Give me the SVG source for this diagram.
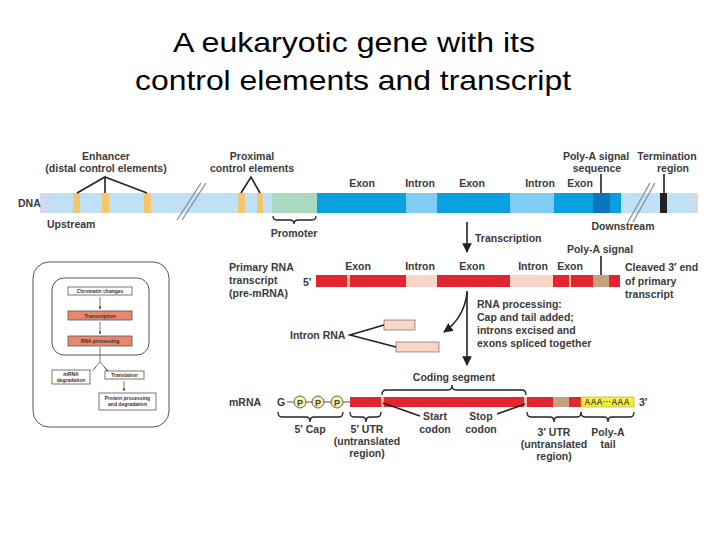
<svg xmlns="http://www.w3.org/2000/svg" width="720" height="540" viewBox="0 0 720 540">
<defs>
<style>
.t{font-family:"Liberation Sans",Arial,sans-serif;font-size:10.5px;font-weight:700;fill:#3a3a3a}
.m{text-anchor:middle}
.title{font-family:"Liberation Sans",Arial,sans-serif;font-size:28px;fill:#000;text-anchor:middle}
.ln{stroke:#222;stroke-width:1.6;fill:none}
.br{stroke:#222;stroke-width:1.3;fill:none}
.sl{stroke:#888;stroke-width:1.2;fill:none}
.s{font-family:"Liberation Sans",Arial,sans-serif;font-size:5px;font-weight:700;fill:#333;text-anchor:middle}
.bx{fill:#fff;stroke:#555;stroke-width:0.8}
.bs{fill:#e9876c;stroke:#555;stroke-width:0.8}
</style>
<linearGradient id="gl" x1="0" x2="1"><stop offset="0" stop-color="#d6d8e8"/><stop offset="1" stop-color="#bfe0f5"/></linearGradient>
<linearGradient id="gr" x1="0" x2="1"><stop offset="0" stop-color="#bfe0f5"/><stop offset="1" stop-color="#d6d8e8"/></linearGradient>
<marker id="ah" viewBox="0 0 10 10" refX="9" refY="5" markerWidth="6" markerHeight="6" orient="auto"><path d="M0,0 L10,5 L0,10 z" fill="#222"/></marker>
<marker id="as" viewBox="0 0 10 10" refX="9" refY="5" markerWidth="4" markerHeight="4" orient="auto"><path d="M0,0 L10,5 L0,10 z" fill="#444"/></marker>
</defs>
<rect width="720" height="540" fill="#fff"/>
<text class="title" x="354" y="52" textLength="362" lengthAdjust="spacingAndGlyphs">A eukaryotic gene with its</text>
<text class="title" x="353" y="90" textLength="436" lengthAdjust="spacingAndGlyphs">control elements and transcript</text>

<g id="dna">
<rect x="40" y="193" width="658" height="20" fill="#bfe0f5"/>
<rect x="40" y="193" width="14" height="20" fill="url(#gl)"/>
<rect x="686" y="193" width="12" height="20" fill="url(#gr)"/>
<rect x="73" y="193" width="7" height="20" fill="#f6c46a"/>
<rect x="102" y="193" width="7" height="20" fill="#f6c46a"/>
<rect x="144" y="193" width="7" height="20" fill="#f6c46a"/>
<rect x="238" y="193" width="7" height="20" fill="#f6c46a"/>
<rect x="257" y="193" width="6" height="20" fill="#f6c46a"/>
<rect x="272" y="193" width="45" height="20" fill="#a9d9c0"/>
<rect x="317" y="193" width="89" height="20" fill="#0aa0e0"/>
<rect x="406" y="193" width="31" height="20" fill="#7fcdf0"/>
<rect x="437" y="193" width="73" height="20" fill="#0aa0e0"/>
<rect x="510" y="193" width="44" height="20" fill="#7fcdf0"/>
<rect x="554" y="193" width="39" height="20" fill="#0aa0e0"/>
<rect x="593" y="193" width="17" height="20" fill="#0a78b8"/>
<rect x="610" y="193" width="11" height="20" fill="#0aa0e0"/>
<rect x="660" y="193" width="7" height="20" fill="#222"/>
<line class="sl" x1="177" y1="220" x2="201" y2="183"/>
<line class="sl" x1="182" y1="220" x2="206" y2="183"/>
<line class="sl" x1="628" y1="222" x2="650" y2="183"/>
<line class="sl" x1="633" y1="222" x2="655" y2="183"/>
<text class="t" x="18" y="207">DNA</text>
<text class="t" x="47" y="228">Upstream</text>
<text class="t m" x="623" y="230">Downstream</text>
</g>

<g id="enhancer">
<text class="t m" x="106" y="160">Enhancer</text>
<text class="t m" x="106" y="172">(distal control elements)</text>
<path class="ln" d="M77,193 L105,177 L105,193 M105,177 L147,193"/>
</g>
<g id="proximal">
<text class="t m" x="252" y="160">Proximal</text>
<text class="t m" x="252" y="172">control elements</text>
<path class="ln" d="M241,193 L251,177 L260,193"/>
</g>
<g id="promoter">
<path class="br" d="M273,216 q0,4 4,4 h13 q4,0 4,4 q0,-4 4,-4 h14 q4,0 4,-4"/>
<text class="t m" x="294" y="237">Promoter</text>
</g>
<g id="dna-labels">
<text class="t m" x="362" y="187">Exon</text>
<text class="t m" x="420" y="187">Intron</text>
<text class="t m" x="472" y="187">Exon</text>
<text class="t m" x="540" y="187">Intron</text>
<text class="t m" x="580" y="187">Exon</text>
<text class="t m" x="596" y="160">Poly-A signal</text>
<text class="t m" x="597" y="172">sequence</text>
<line class="ln" x1="601" y1="174" x2="601" y2="193"/>
<text class="t m" x="667" y="160">Termination</text>
<text class="t m" x="673" y="172">region</text>
<line class="ln" x1="664" y1="174" x2="664" y2="193"/>
</g>

<g id="pre-mrna">
<rect x="316" y="275" width="304" height="12" fill="#e32530"/>
<rect x="347" y="275" width="3" height="12" fill="#f6b88c"/>
<rect x="406" y="275" width="31" height="12" fill="#fbd5c8"/>
<rect x="510" y="275" width="43" height="12" fill="#fbd5c8"/>
<rect x="569" y="275" width="2" height="12" fill="#f6b8a8"/>
<rect x="593" y="275" width="16" height="12" fill="#c4a282"/>
<text class="t" x="229" y="271">Primary RNA</text>
<text class="t" x="229" y="284">transcript</text>
<text class="t" x="229" y="297">(pre-mRNA)</text>
<text class="t" x="303" y="286">5′</text>
<text class="t m" x="358" y="270">Exon</text>
<text class="t m" x="420" y="270">Intron</text>
<text class="t m" x="472" y="270">Exon</text>
<text class="t m" x="533" y="270">Intron</text>
<text class="t m" x="570" y="270">Exon</text>
<text class="t m" x="600" y="253">Poly-A signal</text>
<line class="ln" x1="601" y1="256" x2="601" y2="275"/>
<text class="t" x="625" y="271">Cleaved 3′ end</text>
<text class="t" x="625" y="285">of primary</text>
<text class="t" x="625" y="298">transcript</text>
</g>

<g id="intron-rna">
<rect x="384" y="320" width="31" height="10" fill="#fbd5c8" stroke="#555" stroke-width="0.6"/>
<rect x="396" y="342" width="43" height="10" fill="#fbd5c8" stroke="#555" stroke-width="0.6"/>
<text class="t" x="290" y="339">Intron RNA</text>
<path class="ln" d="M384,325 L350,335 L396,347"/>
</g>

<g id="mrna">
<rect x="350" y="397" width="231" height="10" fill="#e32530"/>
<rect x="381" y="397" width="3" height="10" fill="#f6b88c"/>
<rect x="524" y="397" width="3" height="10" fill="#f6b8a8"/>
<rect x="553" y="397" width="16" height="10" fill="#c4a282"/>
<rect x="581" y="397" width="53" height="10" fill="#f8f030" stroke="#b0a020" stroke-width="0.6"/>
<text x="607" y="405" font-family="Liberation Sans,Arial,sans-serif" font-size="8.5" font-weight="700" fill="#555" text-anchor="middle">AAA···AAA</text>
<text class="t" x="639" y="406">3′</text>
<text class="t" x="229" y="406">mRNA</text>
<text class="t" x="277" y="406">G</text>
<line x1="287" y1="402" x2="350" y2="402" stroke="#555" stroke-width="1"/>
<circle cx="300" cy="402" r="6" fill="#f4f0a0" stroke="#555" stroke-width="0.9"/>
<circle cx="318" cy="402" r="6" fill="#f4f0a0" stroke="#555" stroke-width="0.9"/>
<circle cx="337" cy="402" r="6" fill="#f4f0a0" stroke="#555" stroke-width="0.9"/>
<text x="300" y="405.5" font-family="Liberation Sans,Arial,sans-serif" font-size="9" font-weight="700" fill="#444" text-anchor="middle">P</text>
<text x="318" y="405.5" font-family="Liberation Sans,Arial,sans-serif" font-size="9" font-weight="700" fill="#444" text-anchor="middle">P</text>
<text x="337" y="405.5" font-family="Liberation Sans,Arial,sans-serif" font-size="9" font-weight="700" fill="#444" text-anchor="middle">P</text>
<text class="t m" x="454" y="381">Coding segment</text>
<path class="br" d="M382,395 q0,-5 4,-5 h62 q4,0 4,-5 q0,5 4,5 h66 q4,0 4,5"/>
<path class="br" d="M278,412 q0,5 4,5 h24 q4,0 4,5 q0,-5 4,-5 h25 q4,0 4,-5"/>
<text class="t m" x="310" y="433">5′ Cap</text>
<path class="br" d="M350,412 q0,5 4,5 h8 q4,0 4,5 q0,-5 4,-5 h7 q4,0 4,-5"/>
<text class="t m" x="367" y="433">5′ UTR</text>
<text class="t m" x="367" y="445">(untranslated</text>
<text class="t m" x="367" y="457">region)</text>
<line class="ln" x1="383" y1="403" x2="420" y2="416"/>
<text class="t m" x="435" y="420">Start</text>
<text class="t m" x="435" y="433">codon</text>
<line class="ln" x1="525" y1="404" x2="497" y2="414"/>
<text class="t m" x="481" y="420">Stop</text>
<text class="t m" x="481" y="433">codon</text>
<path class="br" d="M527,412 q0,5 4,5 h19 q4,0 4,5 q0,-5 4,-5 h19 q4,0 4,-5"/>
<text class="t m" x="554" y="436">3′ UTR</text>
<text class="t m" x="554" y="448">(untranslated</text>
<text class="t m" x="554" y="460">region)</text>
<path class="br" d="M581,412 q0,5 4,5 h19 q4,0 4,5 q0,-5 4,-5 h18 q4,0 4,-5"/>
<text class="t m" x="608" y="436">Poly-A</text>
<text class="t m" x="608" y="448">tail</text>
</g>

<g id="connectors">
<line class="ln" x1="467" y1="222" x2="467" y2="252" marker-end="url(#ah)"/>
<text class="t" x="475" y="242">Transcription</text>
<line class="ln" x1="467" y1="291" x2="467" y2="365" marker-end="url(#ah)"/>
<path class="ln" d="M467,293 Q464,318 444,332" marker-end="url(#ah)"/>
<text class="t" x="477" y="308">RNA processing:</text>
<text class="t" x="477" y="321">Cap and tail added;</text>
<text class="t" x="477" y="334">introns excised and</text>
<text class="t" x="477" y="347">exons spliced together</text>
</g>

<g id="overview">
<rect x="33" y="262" width="136" height="165" rx="16" fill="#fff" stroke="#555" stroke-width="1"/>
<rect x="52" y="278" width="97" height="77" rx="12" fill="#fff" stroke="#555" stroke-width="1"/>
<rect class="bx" x="68" y="287" width="64" height="8"/>
<text class="s" x="100" y="293">Chromatin changes</text>
<rect class="bs" x="68" y="311" width="64" height="9"/>
<text class="s" x="100" y="317.5">Transcription</text>
<rect class="bs" x="68" y="336" width="64" height="10"/>
<text class="s" x="100" y="343">RNA processing</text>
<line x1="100" y1="297" x2="100" y2="309" stroke="#444" stroke-width="0.7" marker-end="url(#as)"/>
<line x1="100" y1="322" x2="100" y2="334" stroke="#444" stroke-width="0.7" marker-end="url(#as)"/>
<path d="M100,347 V362 L94,369 M100,362 L106,369" stroke="#444" stroke-width="0.7" fill="none"/>
<path d="M96,367 L92,371 M104,367 L108,371" stroke="#444" stroke-width="0.7" fill="none" marker-end="url(#as)"/>
<rect class="bx" x="52" y="370" width="38" height="14"/>
<text class="s" x="71" y="376">mRNA</text>
<text class="s" x="71" y="382">degradation</text>
<rect class="bx" x="105" y="371" width="39" height="8"/>
<text class="s" x="124.5" y="377">Translation</text>
<line x1="124" y1="381" x2="124" y2="391" stroke="#444" stroke-width="0.7" marker-end="url(#as)"/>
<rect class="bx" x="99" y="393" width="57" height="17"/>
<text class="s" x="127.5" y="400">Protein processing</text>
<text class="s" x="127.5" y="406">and degradation</text>
</g>
</svg>
